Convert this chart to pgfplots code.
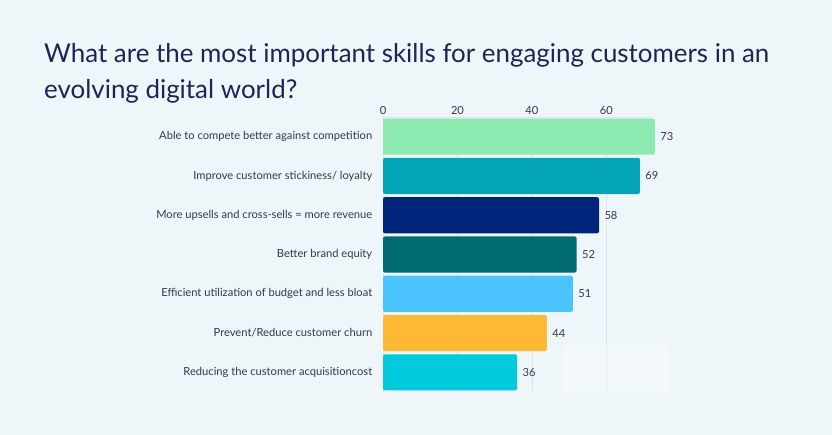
\documentclass[border=0pt]{standalone}
\usepackage{fontspec}
\setmainfont{Lato}
\usepackage{pgfplots}
\pgfplotsset{compat=1.18}
\definecolor{bg}{HTML}{EEF6FA}
\definecolor{titlec}{HTML}{1B2657}
\definecolor{gridc}{HTML}{DCE3E8}
\definecolor{txt}{HTML}{333A40}
\definecolor{c1}{HTML}{8CE9B0}
\definecolor{c2}{HTML}{05A5B8}
\definecolor{c3}{HTML}{00247A}
\definecolor{c4}{HTML}{016B72}
\definecolor{c5}{HTML}{4AC3FF}
\definecolor{c6}{HTML}{FFB834}
\definecolor{c7}{HTML}{00CADC}
\begin{document}
\begin{tikzpicture}
\useasboundingbox (0bp,0bp) rectangle (832bp,-435bp);
\fill[bg] (0bp,0bp) rectangle (832bp,-435bp);
\node[anchor=base west, font=\fontsize{26}{30}\selectfont, text=titlec, inner sep=0] at (44bp,-62bp) {What are the most important skills for engaging customers in an};
\node[anchor=base west, font=\fontsize{26}{30}\selectfont, text=titlec, inner sep=0] at (44bp,-98bp) {evolving digital world?};
\begin{axis}[
  at={(383bp,-392bp)}, anchor=south west,
  scale only axis, width=270bp, height=275bp,
  clip=false,
  xbar, bar shift=0pt, bar width=0.92,
  xmin=0, xmax=72.5, ymin=-0.5, ymax=6.5,
  y dir=reverse,
  axis x line*=top, axis y line*=left,
  axis line style={draw=gridc, -},
  xtick={0,20,40,60},
  ytick={0,1,2,3,4,5,6},
  yticklabels={Able to compete better against competition,Improve customer stickiness/ loyalty,More upsells and cross-sells = more revenue,Better brand equity,Efficient utilization of budget and less bloat,Prevent/Reduce customer churn,Reducing the customer acquisitioncost},
  xmajorgrids, grid style={draw=gridc, line width=0.6bp},
  major tick style={draw=none},
  /pgf/number format/assume math mode=true,
  ticklabel style={font=\fontsize{11.2}{13}\selectfont, text=txt},
  xticklabel style={yshift=-1bp},
  yticklabel style={xshift=-3bp},
  nodes near coords,
  every node near coord/.append style={font=\fontsize{11.2}{13}\selectfont, text=txt, anchor=west, xshift=2bp},
  every axis plot/.append style={draw=none, rounded corners=2bp},
]
\addplot[fill=c1] coordinates {(73,0)};
\addplot[fill=c2] coordinates {(69,1)};
\addplot[fill=c3] coordinates {(58,2)};
\addplot[fill=c4] coordinates {(52,3)};
\addplot[fill=c5] coordinates {(51,4)};
\addplot[fill=c6] coordinates {(44,5)};
\addplot[fill=c7] coordinates {(36,6)};
\end{axis}
\fill[color=white, opacity=0.35] (562bp,-345bp) rectangle (668bp,-393bp);
\end{tikzpicture}
\end{document}
